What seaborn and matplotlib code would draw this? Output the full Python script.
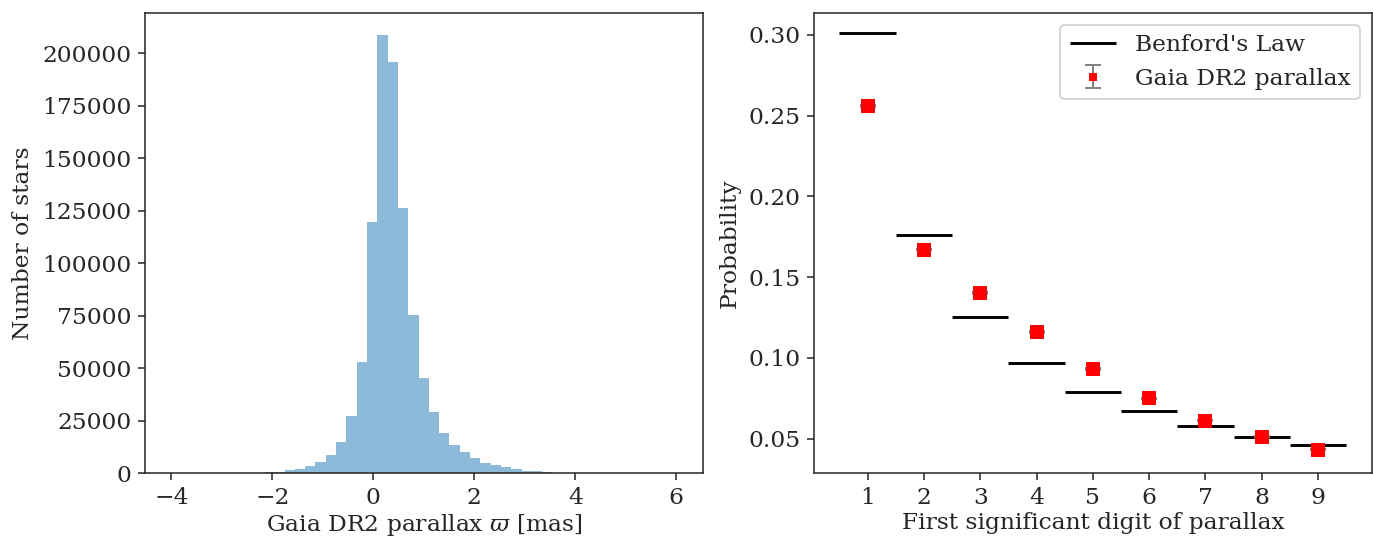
#!/usr/bin/env python3
"""Gaia DR2 parallax histogram and first-digit test against Benford's law."""

import matplotlib

matplotlib.use("Agg")

import matplotlib.pyplot as plt
import numpy as np
import pandas as pd
import seaborn as sns
from matplotlib.ticker import MultipleLocator


# left panel: parallax histogram, 50 bins
BIN_EDGES = np.linspace(-4.0, 6.2, 51)
STAR_COUNTS = [
    10, 15, 20, 30, 45, 70, 100, 150, 250, 450,
    800, 1400, 2200, 3300, 5400, 8900, 14800, 27300, 52800, 119500,
    208700, 195700, 126200, 75200, 45200, 29000, 19400, 13500, 10000, 7100,
    5100, 4000, 2900, 1900, 1300, 850, 550, 350, 220, 150,
    100, 70, 50, 35, 25, 20, 15, 10, 10, 5,
]

# right panel: first significant digit
DIGITS = np.arange(1, 10)
BENFORD_PROB = [0.301, 0.176, 0.125, 0.097, 0.079, 0.067, 0.058, 0.051, 0.046]
GAIA_PROB = [0.256, 0.167, 0.140, 0.116, 0.093, 0.075, 0.061, 0.051, 0.043]
GAIA_ERR = [0.0006, 0.0005, 0.0005, 0.0004, 0.0004, 0.0004, 0.0003, 0.0003, 0.0003]


def setup_style() -> None:
    sns.set_theme(style="ticks")
    plt.rcParams.update(
        {
            "font.family": "DejaVu Serif",
            "mathtext.fontset": "dejavuserif",
            "font.size": 12,
            "axes.labelsize": 12,
            "xtick.labelsize": 12,
            "ytick.labelsize": 12,
            "legend.fontsize": 12,
            "axes.linewidth": 0.8,
            "axes.edgecolor": "0.15",
            "xtick.major.size": 3.5,
            "ytick.major.size": 3.5,
            "xtick.major.width": 0.8,
            "ytick.major.width": 0.8,
            "lines.linewidth": 1.5,
        }
    )


def main() -> None:
    setup_style()
    fig, (ax_h, ax_b) = plt.subplots(1, 2, figsize=(1373 / 140, 538 / 140), dpi=140)
    fig.subplots_adjust(left=0.1056, right=0.999, top=0.9753, bottom=0.1203, wspace=0.2)

    hist = pd.DataFrame(
        {
            "parallax": 0.5 * (BIN_EDGES[:-1] + BIN_EDGES[1:]),
            "count": np.asarray(STAR_COUNTS, dtype=float),
        }
    )
    sns.histplot(
        data=hist,
        x="parallax",
        weights="count",
        bins=BIN_EDGES.tolist(),
        element="step",
        color="#1f77b4",
        alpha=0.5,
        linewidth=0,
        ax=ax_h,
    )
    ax_h.set_xlim(-4.52, 6.52)
    ax_h.set_ylim(0, 219000)
    ax_h.yaxis.set_major_locator(MultipleLocator(25000))
    ax_h.set_xlabel(r"Gaia DR2 parallax $\varpi$ [mas]", labelpad=1.5)
    ax_h.set_ylabel("Number of stars")

    ax_b.hlines(BENFORD_PROB, DIGITS - 0.5, DIGITS + 0.5, color="black", linewidth=1.5, label="Benford's Law")
    ax_b.errorbar(
        DIGITS,
        GAIA_PROB,
        yerr=GAIA_ERR,
        fmt="s",
        color="red",
        markersize=6,
        ecolor="gray",
        elinewidth=1,
        capsize=4,
        label="Gaia DR2 parallax",
    )
    ax_b.set_xticks(DIGITS)
    ax_b.set_xlim(0.05, 9.95)
    ax_b.set_ylim(0.0285, 0.3134)
    ax_b.yaxis.set_major_locator(MultipleLocator(0.05))
    ax_b.set_xlabel("First significant digit of parallax", labelpad=1.5)
    ax_b.set_ylabel("Probability")
    ax_b.legend(loc="upper right", markerscale=0.45)

    fig.savefig("out.png", dpi=140)
    plt.close(fig)


if __name__ == "__main__":
    main()
